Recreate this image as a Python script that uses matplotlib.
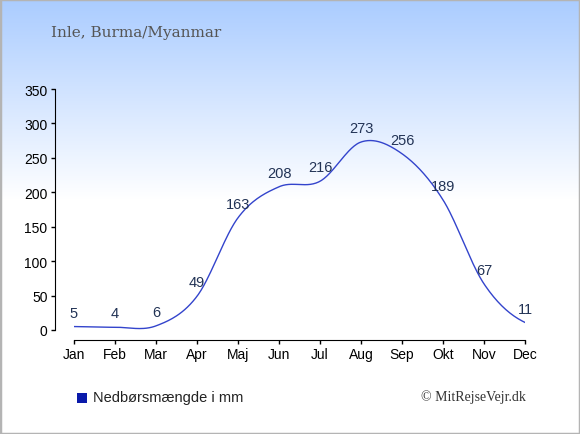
""" Monthly precipitation for Inle, Burma/Myanmar, drawn as a smooth line chart.
"""
import numpy as np
import matplotlib
matplotlib.use("Agg")
import matplotlib.pyplot as plt
from matplotlib.patches import Rectangle

plt.rcParams["font.family"] = ["Liberation Sans", "DejaVu Sans"]

# data
months = ["Jan", "Feb", "Mar", "Apr", "Maj", "Jun", "Jul", "Aug", "Sep", "Okt", "Nov", "Dec"]
rain_mm = [5, 4, 6, 49, 163, 208, 216, 273, 256, 189, 67, 11]
y_ticks = [0, 50, 100, 150, 200, 250, 300, 350]

title_text = "Inle, Burma/Myanmar"
legend_text = "Nedbørsmængde i mm"
credit_text = "© MitRejseVejr.dk"


def catmull_rom(x, y, steps=30):
    """ Smooth the line between the points with a Catmull-Rom spline """
    x = np.asarray(x, dtype=float)
    y = np.asarray(y, dtype=float)
    yp = np.concatenate([[y[0]], y, [y[-1]]])
    xs, ys = [], []
    t = np.linspace(0, 1, steps, endpoint=False)
    for i in range(len(y) - 1):
        p0, p1, p2, p3 = yp[i], yp[i + 1], yp[i + 2], yp[i + 3]
        m1 = (p2 - p0) / 2
        m2 = (p3 - p1) / 2
        h00 = 2 * t**3 - 3 * t**2 + 1
        h10 = t**3 - 2 * t**2 + t
        h01 = -2 * t**3 + 3 * t**2
        h11 = t**3 - t**2
        xs.append(x[i] + t * (x[i + 1] - x[i]))
        ys.append(h00 * p1 + h10 * m1 + h01 * p2 + h11 * m2)
    xs.append([x[-1]])
    ys.append([y[-1]])
    return np.concatenate(xs), np.concatenate(ys)


fig = plt.figure(figsize=(5.8, 4.35), dpi=100)

# background gradient: light blue at top fading to white
bg = fig.add_axes([0, 0, 1, 1], zorder=0)
h = 435
rows = np.arange(h)
frac = np.clip(rows / 200.0, 0, 1)[:, None]
top = np.array([0.667, 0.800, 1.0])
white = np.array([1.0, 1.0, 1.0])
grad = top * (1 - frac) + white * frac
bg.imshow(grad[:, None, :].repeat(2, axis=1), aspect="auto", extent=[0, 1, 0, 1], origin="upper")
bg.add_patch(Rectangle((0, 0), 1, 1, transform=bg.transAxes, fill=False,
                       edgecolor="#b4b4b4", linewidth=2.5))
bg.set_xlim(0, 1)
bg.set_ylim(0, 1)
bg.axis("off")

ax = fig.add_axes([74 / 580, 104 / 435, 451 / 580, 241 / 435], zorder=1)
ax.patch.set_alpha(0)

x = np.arange(len(months))
sx, sy = catmull_rom(x, rain_mm)
ax.plot(sx, sy, color="#3344cc", linewidth=1.0)

for xi, v in zip(x, rain_mm):
    ax.annotate(str(v), (xi, v), xytext=(0, 10), textcoords="offset points",
                ha="center", va="center", fontsize=10.5, color="#223355")

ax.set_xlim(0, 11)
ax.set_ylim(0, 350)
ax.set_xticks(x)
ax.set_xticklabels(months)
ax.set_yticks(y_ticks)

ax.spines["top"].set_visible(False)
ax.spines["right"].set_visible(False)
ax.spines["left"].set_position(("outward", 14))
ax.spines["bottom"].set_position(("outward", 7))
ax.tick_params(axis="both", direction="out", length=3, width=1, pad=2, labelsize=10)

# title
fig.text(51 / 580, 1 - 33 / 435, title_text, ha="left", va="center",
         fontsize=11, color="#555555", family="DejaVu Serif")

# legend
fig.patches.append(Rectangle((77 / 580, 1 - 404 / 435), 10 / 580, 10 / 435,
                             transform=fig.transFigure, facecolor="#0a1aaa",
                             edgecolor="none"))
fig.text(93 / 580, 1 - 398 / 435, legend_text, ha="left", va="center",
         fontsize=10.5, color="#222222")

# credit
fig.text(526 / 580, 1 - 397 / 435, credit_text, ha="right", va="center",
         fontsize=10, color="#333333", family="Liberation Serif")

plt.savefig("out.png", dpi=100)
plt.close()
